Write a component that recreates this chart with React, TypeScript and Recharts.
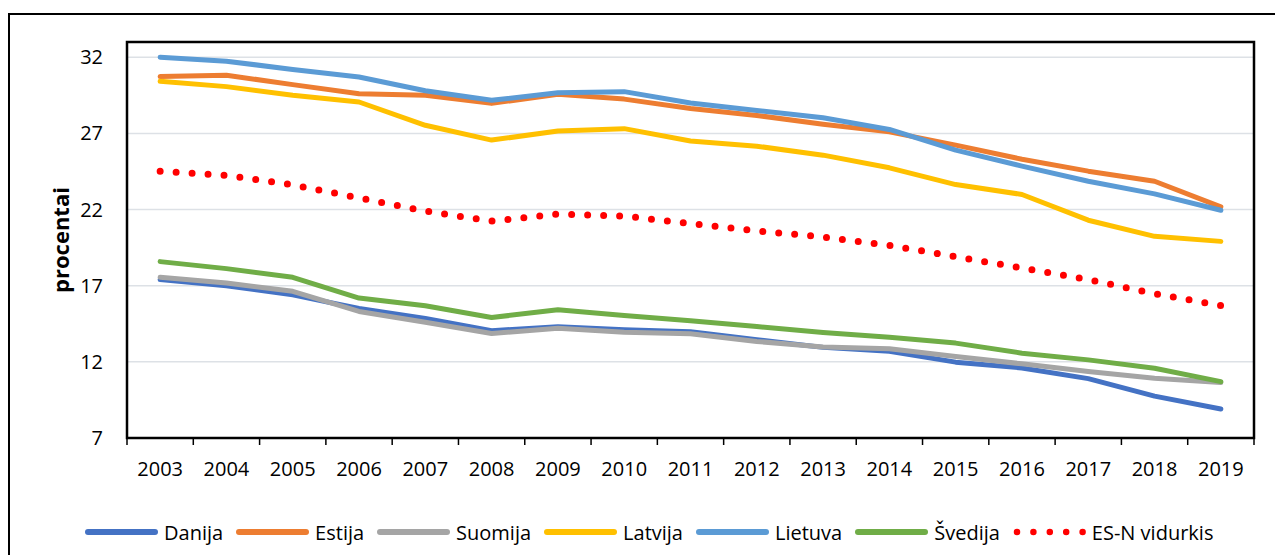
import React from 'react'
import { LineChart, Line, XAxis, YAxis, CartesianGrid, ReferenceArea } from 'recharts'

const years = [2003, 2004, 2005, 2006, 2007, 2008, 2009, 2010, 2011, 2012, 2013, 2014, 2015, 2016, 2017, 2018, 2019]
const yTicks = [7, 12, 17, 22, 27, 32]

const danija = [17.4, 17.0, 16.4, 15.5, 14.85, 14.05, 14.3, 14.1, 13.97, 13.45, 12.95, 12.7, 11.98, 11.6, 10.9, 9.75, 8.9]
const estija = [30.73, 30.82, 30.2, 29.6, 29.5, 28.97, 29.57, 29.25, 28.64, 28.18, 27.6, 27.1, 26.23, 25.3, 24.52, 23.86, 22.18]
const suomija = [17.55, 17.18, 16.63, 15.31, 14.6, 13.86, 14.2, 13.95, 13.84, 13.34, 12.97, 12.86, 12.35, 11.87, 11.36, 10.93, 10.64]
const latvija = [30.42, 30.07, 29.5, 29.06, 27.53, 26.56, 27.15, 27.31, 26.5, 26.16, 25.57, 24.74, 23.64, 22.99, 21.3, 20.24, 19.91]
const lietuva = [32.0, 31.74, 31.2, 30.7, 29.8, 29.17, 29.67, 29.74, 29.0, 28.5, 28.03, 27.26, 25.9, 24.85, 23.86, 23.03, 21.95]
const svedija = [18.58, 18.12, 17.55, 16.19, 15.68, 14.91, 15.42, 15.05, 14.7, 14.32, 13.93, 13.62, 13.23, 12.57, 12.13, 11.58, 10.7]
const esn = [24.52, 24.24, 23.62, 22.76, 21.9, 21.24, 21.7, 21.57, 21.08, 20.6, 20.2, 19.65, 18.9, 18.16, 17.4, 16.47, 15.7]

const series = [
  { key: 'Danija', values: danija, color: '#4472C4', dotted: false },
  { key: 'Estija', values: estija, color: '#ED7D31', dotted: false },
  { key: 'Suomija', values: suomija, color: '#A5A5A5', dotted: false },
  { key: 'Latvija', values: latvija, color: '#FFC000', dotted: false },
  { key: 'Lietuva', values: lietuva, color: '#5B9BD5', dotted: false },
  { key: 'Švedija', values: svedija, color: '#70AD47', dotted: false },
  { key: 'ES-N vidurkis', values: esn, color: '#FF0000', dotted: true },
]

const data = years.map((year, i) => {
  const row: Record<string, number> = { year }
  series.forEach(s => { row[s.key] = s.values[i] })
  return row
})

// category boundaries, used for the tick marks between years
const bounds = [...years.map(y => y - 0.5), years[years.length - 1] + 0.5]

const CHART_W = 1275
const CHART_H = 500
const MARGIN = { top: 42, right: 21, bottom: 22, left: 0 }
const Y_AXIS_W = 127
const halfBand = (CHART_W - MARGIN.left - MARGIN.right - Y_AXIS_W) / years.length / 2

const font = '"Open Sans", sans-serif'

function YearTick(props: any) {
  const { x, y, index } = props
  if (index >= years.length) return null
  return (
    <text x={x + halfBand} y={y} dy="0.71em" textAnchor="middle" fontSize={20} fontFamily={font} fill="#000">
      {years[index]}
    </text>
  )
}

function AxisTitle(props: any) {
  const { viewBox } = props
  const cx = viewBox.x + 60
  const cy = viewBox.y + viewBox.height / 2
  return (
    <text x={cx} y={cy} transform={`rotate(-90 ${cx} ${cy})`} textAnchor="middle" dominantBaseline="central"
      fontSize={22} fontWeight="bold" fontFamily={font} fill="#000">
      procentai
    </text>
  )
}

function LegendRow() {
  return (
    <div style={{ position: 'absolute', left: 85, top: 518, height: 28, display: 'flex', alignItems: 'center', fontFamily: font, fontSize: 20, color: '#000' }}>
      {series.map(s => (
        <div key={s.key} style={{ display: 'flex', alignItems: 'center', marginRight: 13 }}>
          <svg width={73} height={8} style={{ marginRight: 6 }}>
            {s.dotted
              ? <line x1={4} y1={4} x2={71} y2={4} stroke={s.color} strokeWidth={6.5} strokeDasharray="0 16.4" strokeLinecap="round" />
              : <line x1={3} y1={4} x2={70} y2={4} stroke={s.color} strokeWidth={6} strokeLinecap="round" />}
          </svg>
          <span>{s.key}</span>
        </div>
      ))}
    </div>
  )
}

export default function App() {
  return (
    <div style={{ position: 'relative', width: 1275, height: 555, background: '#fff' }}>
      <style>{'body{margin:0;overflow:hidden;background:#fff}'}</style>
      <div style={{ position: 'absolute', left: 8, top: 13, width: 1290, height: 600, border: '2px solid #000', boxSizing: 'border-box' }} />
      <div style={{ position: 'absolute', left: 0, top: 0 }}>
        <LineChart width={CHART_W} height={CHART_H} data={data} margin={MARGIN}>
          <CartesianGrid vertical={false} stroke="#dde1e6" strokeWidth={1.5} />
          <XAxis
            dataKey="year"
            type="number"
            domain={[bounds[0], bounds[bounds.length - 1]]}
            ticks={bounds}
            interval={0}
            height={40}
            axisLine={false}
            tickLine={{ stroke: '#000', strokeWidth: 1.5 }}
            tickSize={7}
            tickMargin={17}
            tick={<YearTick />}
          />
          <YAxis
            domain={[7, 33]}
            ticks={yTicks}
            width={Y_AXIS_W}
            axisLine={false}
            tickLine={false}
            tickSize={6}
            tickMargin={18}
            tick={{ fontSize: 20, fontFamily: font, fill: '#000' }}
            label={{ content: <AxisTitle /> }}
          />
          <ReferenceArea
            x1={bounds[0]}
            x2={bounds[bounds.length - 1]}
            y1={7}
            y2={33}
            fill="none"
            fillOpacity={0}
            stroke="#000"
            strokeWidth={2.5}
            ifOverflow="visible"
          />
          {series.map(s => (
            <Line
              key={s.key}
              dataKey={s.key}
              stroke={s.color}
              strokeWidth={s.dotted ? 7 : 5}
              strokeDasharray={s.dotted ? '0 16' : undefined}
              strokeLinecap="round"
              strokeLinejoin="round"
              dot={false}
              activeDot={false}
              isAnimationActive={false}
            />
          ))}
        </LineChart>
      </div>
      <LegendRow />
    </div>
  )
}
